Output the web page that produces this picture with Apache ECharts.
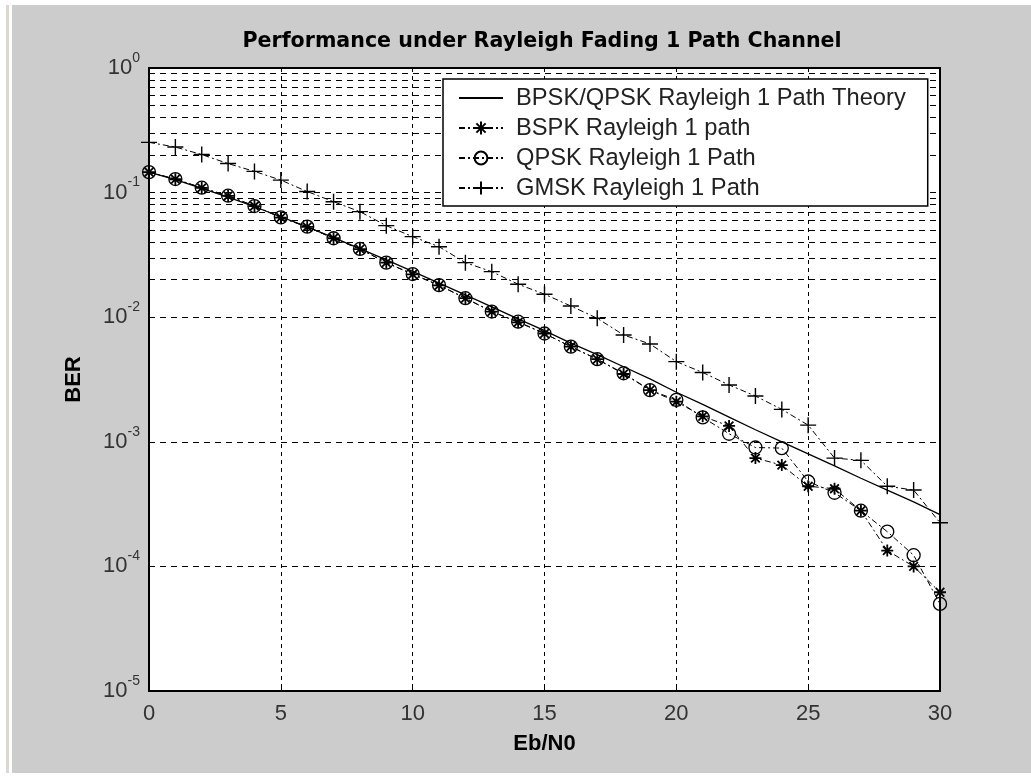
<!DOCTYPE html>
<html><head><meta charset="utf-8">
<script src="https://cdn.jsdelivr.net/npm/echarts@6/dist/echarts.min.js"></script>
<style>
html,body{margin:0;padding:0;background:#fff;width:1031px;height:776px;overflow:hidden}
#edge{position:absolute;left:6px;top:5px;width:3px;height:768px;background:#dcd8d0}
#bg{position:absolute;left:12px;top:5px;width:1019px;height:768px;background:#cccccc}
#chart{position:absolute;left:0;top:0;width:1031px;height:776px}
</style></head><body>
<div id="edge"></div><div id="bg"></div><div id="chart"></div>
<script>
const ebn0 = [0,1,2,3,4,5,6,7,8,9,10,11,12,13,14,15,16,17,18,19,20,21,22,23,24,25,26,27,28,29,30];
const theory = [0.146,0.127,0.108,0.092,0.077,0.064,0.053,0.0435,0.0355,0.0288,0.0233,0.0188,0.0151,0.0121,0.0097,0.0078,0.0062,0.0050,0.0040,0.0032,0.0025,0.0020,0.00158,0.00125,0.00100,0.00080,0.00064,0.00051,0.00041,0.00033,0.00026];
const bpskSim = [0.146,0.128,0.109,0.094,0.078,0.063,0.053,0.043,0.0352,0.0274,0.0221,0.0180,0.0142,0.0111,0.0091,0.0074,0.0058,0.0046,0.0035,0.0026,0.0021,0.0016,0.00134,0.00074,0.00065,0.00044,0.00042,0.00028,0.000134,0.000100,0.000062];
const qpskSim = [0.146,0.1285,0.1095,0.0944,0.078,0.0633,0.0533,0.043,0.0353,0.0274,0.0222,0.0181,0.0142,0.0111,0.0092,0.0074,0.0058,0.0046,0.00355,0.0026,0.00217,0.00157,0.00116,0.00090,0.00089,0.00048,0.00039,0.000280,0.000190,0.000123,0.000050];
const gmskSim = [0.253,0.232,0.202,0.171,0.148,0.126,0.102,0.0845,0.0703,0.0543,0.0443,0.0368,0.0274,0.0232,0.0184,0.0153,0.0123,0.0098,0.0072,0.0061,0.0044,0.0036,0.00286,0.00233,0.00182,0.00136,0.00074,0.00071,0.00044,0.00041,0.000224];
const seriesNames = ['BPSK/QPSK Rayleigh 1 Path Theory','BSPK Rayleigh 1 path','QPSK Rayleigh 1 Path','GMSK Rayleigh 1 Path'];
const titleText = 'Performance under Rayleigh Fading 1 Path Channel';
const xName = 'Eb/N0';
const yName = 'BER';
const decadeExponents = [-5,-4,-3,-2,-1];
const minorMantissas = [2,3,4,5,6,7,8,9];

const FONT = '"Liberation Sans", Arial, sans-serif';
const TFONT = '"DejaVu Sans", sans-serif';
const pair = arr => ebn0.map((x, i) => [x, arr[i]]);
const minorGrid = [];
decadeExponents.forEach(e => minorMantissas.forEach(m => minorGrid.push({ yAxis: m * Math.pow(10, e) })));

const dashDot = [6, 3, 2, 3];
const gridStyle = { type: [6, 5], color: '#000', width: 1 };
const chart = echarts.init(document.getElementById('chart'), null, { renderer: 'canvas' });
chart.setOption({
  animation: false,
  title: {
    text: titleText, left: 542, top: 31, textAlign: 'center', padding: 0,
    textStyle: { fontFamily: TFONT, fontSize: 20.6, fontWeight: 'bold', color: '#000' }
  },
  grid: {
    left: 149, top: 68, right: 91, bottom: 85,
    show: true, backgroundColor: '#fff', borderColor: '#000', borderWidth: 2
  },
  legend: {
    orient: 'vertical', left: 443, top: 79,
    data: seriesNames, selectedMode: false,
    itemWidth: 44, itemHeight: 16, itemGap: 6,
    padding: [7, 22, 6, 15],
    backgroundColor: '#fff', borderColor: '#000', borderWidth: 1.5, borderRadius: 0,
    textStyle: { fontFamily: FONT, fontSize: 23.7, color: '#222', lineHeight: 24, padding: [0, 0, 0, 8] }
  },
  xAxis: {
    type: 'value', min: 0, max: 30, interval: 5,
    axisLine: { show: false },
    axisTick: { show: true, inside: true, length: 6, lineStyle: { color: '#000' } },
    axisLabel: { fontFamily: FONT, fontSize: 22, color: '#333', margin: 12 },
    splitLine: { show: true, lineStyle: { type: [4, 4], color: '#000', width: 1 } },
    name: xName, nameLocation: 'middle', nameGap: 42,
    nameTextStyle: { fontFamily: FONT, fontSize: 22, fontWeight: 'bold', color: '#000' }
  },
  yAxis: {
    type: 'log', logBase: 10, min: 1e-5, max: 1,
    axisLine: { show: false },
    axisTick: { show: false },
    axisLabel: {
      margin: 9,
      formatter: v => '{b|10}{s|' + Math.round(Math.log10(v)) + '}',
      rich: {
        b: { fontFamily: FONT, fontSize: 22, color: '#333', lineHeight: 34 },
        s: { fontFamily: FONT, fontSize: 14, color: '#333', lineHeight: 14, verticalAlign: 'top' }
      }
    },
    splitLine: { show: true, lineStyle: gridStyle },
    name: yName, nameLocation: 'middle', nameGap: 64, nameRotate: 90,
    nameTextStyle: { fontFamily: FONT, fontSize: 22, fontWeight: 'bold', color: '#000' }
  },
  series: [
    {
      name: '', type: 'line', data: [], z: 0, silent: true,
      markLine: {
        z: 1, silent: true, symbol: ['none', 'none'], label: { show: false },
        lineStyle: gridStyle,
        emphasis: { disabled: true },
        data: minorGrid
      }
    },
    {
      name: seriesNames[0], type: 'line', data: pair(theory), symbol: 'none', z: 3,
      lineStyle: { color: '#000', width: 1.3, type: 'solid' },
      itemStyle: { color: 'rgba(0,0,0,0)', borderColor: 'rgba(0,0,0,0)', borderWidth: 0 }
    },
    {
      name: seriesNames[1], type: 'line', data: pair(bpskSim), z: 3,
      symbol: 'path://M0,-6L0,6M-6,0L6,0M-4.3,-4.3L4.3,4.3M-4.3,4.3L4.3,-4.3', symbolSize: 12,
      lineStyle: { color: '#000', width: 1, type: dashDot },
      itemStyle: { color: '#000', borderColor: '#000', borderWidth: 1.8 }
    },
    {
      name: seriesNames[2], type: 'line', data: pair(qpskSim), z: 3,
      symbol: 'circle', symbolSize: 13,
      lineStyle: { color: '#000', width: 1, type: dashDot },
      itemStyle: { color: 'rgba(0,0,0,0)', borderColor: '#000', borderWidth: 1.3 }
    },
    {
      name: seriesNames[3], type: 'line', data: pair(gmskSim), z: 3,
      symbol: 'path://M0,-6L0,6M-6,0L6,0', symbolSize: 16,
      lineStyle: { color: '#000', width: 1, type: dashDot },
      itemStyle: { color: '#000', borderColor: '#000', borderWidth: 1.4 }
    }
  ]
});
</script>
</body></html>
